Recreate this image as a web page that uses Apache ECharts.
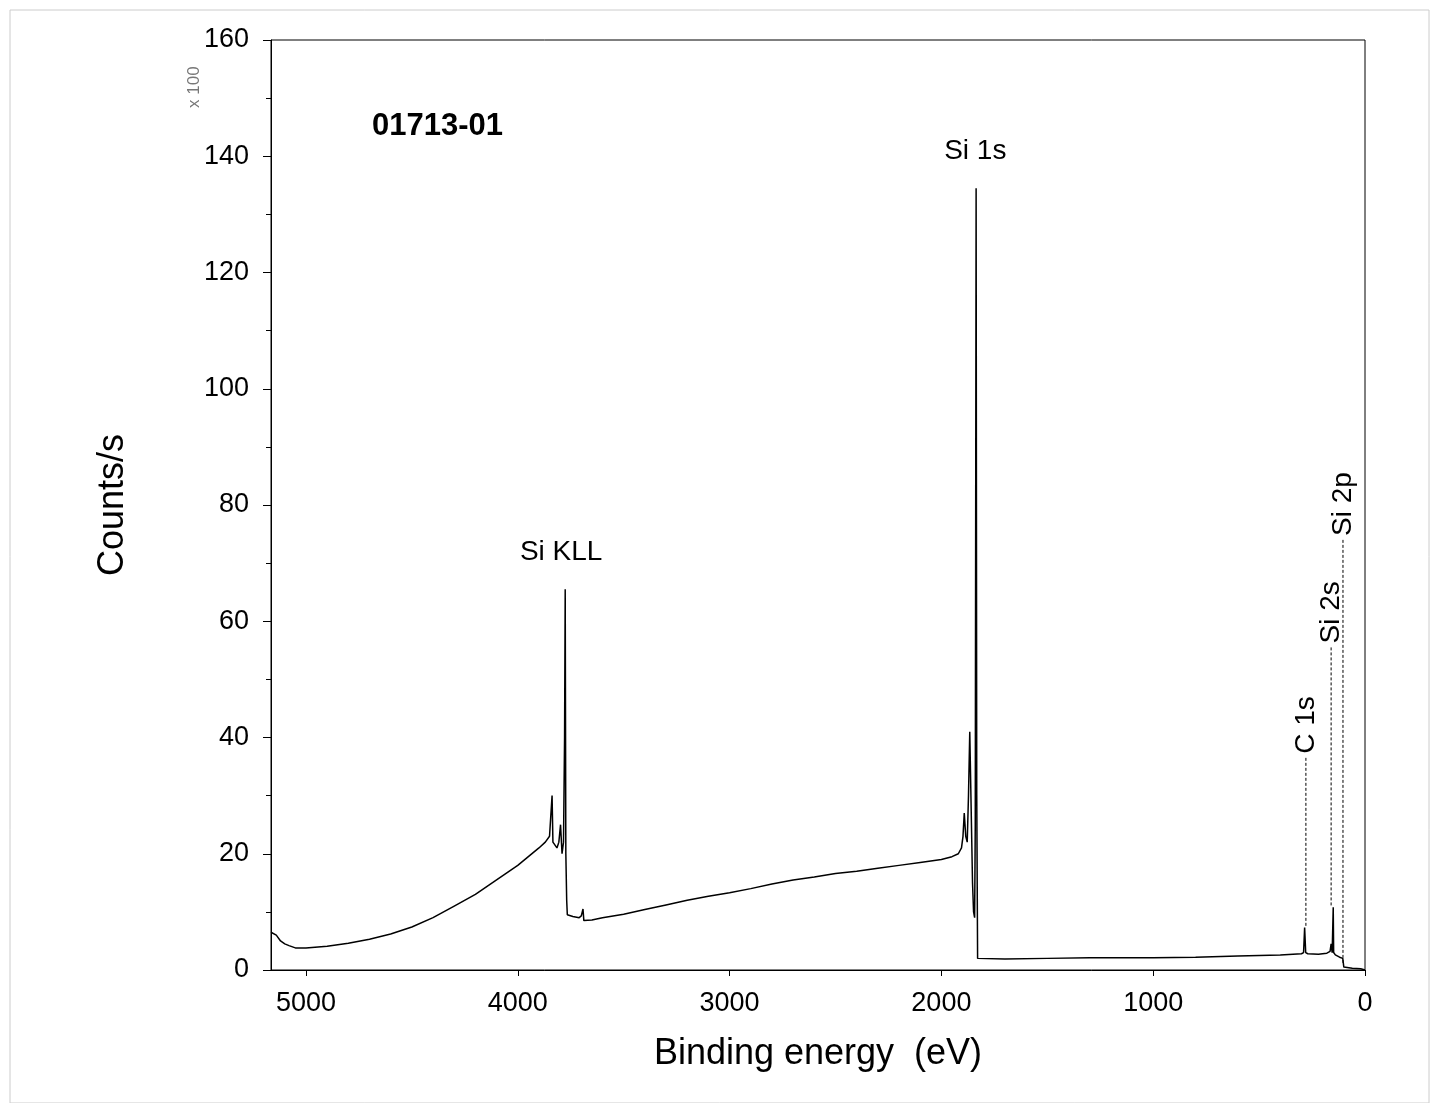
<!DOCTYPE html>
<html>
<head>
<meta charset="utf-8">
<script src="https://cdn.jsdelivr.net/npm/echarts@6/dist/echarts.min.js"></script>
<style>html,body{margin:0;background:#fff}#c{width:1439px;height:1103px}</style>
</head>
<body>
<div id="c"></div>
<script>
// spectrum (binding energy eV, counts/s x100)
const energy = [5165, 5140, 5120, 5100, 5080, 5050, 5000, 4900, 4800, 4700, 4600, 4500, 4400, 4300, 4200, 4100, 4000, 3950, 3900, 3870, 3850, 3838, 3834, 3826, 3815, 3806, 3798, 3791, 3784, 3779, 3776, 3773, 3769, 3766, 3740, 3710, 3700, 3692, 3688, 3680, 3650, 3600, 3500, 3400, 3300, 3200, 3100, 3000, 2900, 2800, 2700, 2600, 2500, 2400, 2300, 2200, 2100, 2000, 1950, 1920, 1905, 1898, 1892, 1885, 1878, 1872, 1866, 1862, 1858, 1853, 1848, 1843, 1840, 1836, 1833, 1829, 1820, 1700, 1500, 1300, 1000, 800, 600, 400, 300, 290, 285, 280, 270, 220, 180, 165, 160, 155, 152, 150, 148, 140, 120, 105, 100, 60, 20, 0]
const counts = [6.5, 6, 5, 4.5, 4.2, 3.8, 3.8, 4.1, 4.6, 5.3, 6.2, 7.4, 9, 11, 13, 15.5, 18, 19.5, 21, 22, 23, 30, 22, 22, 21, 22, 25, 20, 22, 40, 65.5, 20, 12, 9.5, 9.2, 9, 9.3, 10.5, 8.5, 8.3, 8.6, 9, 9.6, 10.4, 11.2, 12, 12.7, 13.3, 14, 14.8, 15.5, 16, 16.6, 17, 17.5, 18, 18.5, 19, 19.5, 20, 21, 23, 27, 23, 22, 30, 41, 33, 25, 15, 10, 9, 25, 134.5, 30, 2, 1.8, 1.9, 2, 2.1, 2.1, 2.2, 2.4, 2.6, 2.8, 3, 7.3, 3, 2.8, 2.7, 2.9, 3.2, 4.5, 3, 3.2, 10.8, 3, 2.6, 2.2, 2, 0.5, 0.3, 0.2, 0]

const peakNames = ['C 1s', 'Si 2s', 'Si 2p']
const peakEnergy = [279, 160, 104]
const peakTop = [36.5, 55.5, 74]
const peakBottom = [7.3, 10.8, 1]
const textNames = ['Si KLL', 'Si 1s']
const textEnergy = [3795, 1840]
const textValue = [69.5, 138.5]

const chart = echarts.init(document.getElementById('c'))
const font = 'Arial, "Liberation Sans", sans-serif'
const lbl = { show: true, formatter: '{b}', fontSize: 28, color: '#000', fontFamily: font, opacity: 1 }

chart.setOption({
  animation: false,
  grid: { left: 271, right: 74, top: 40, bottom: 133, show: true, borderColor: '#000', borderWidth: 1 },
  xAxis: {
    type: 'value', inverse: true, min: 0, max: 5165, interval: 1000,
    name: 'Binding energy  (eV)', nameLocation: 'middle', nameGap: 66,
    nameTextStyle: { fontSize: 36, color: '#000', fontFamily: font },
    axisLine: { onZero: false, lineStyle: { color: '#000' } },
    axisTick: { length: 6, lineStyle: { color: '#000' } },
    axisLabel: { fontSize: 27, color: '#000', fontFamily: font, margin: 20, showMaxLabel: false, formatter: v => String(v) },
    splitLine: { show: false }
  },
  yAxis: {
    type: 'value', min: 0, max: 160, interval: 20,
    name: 'Counts/s', nameLocation: 'middle', nameGap: 140,
    nameTextStyle: { fontSize: 36, color: '#000', fontFamily: font },
    axisLine: { onZero: false, lineStyle: { color: '#000' } },
    axisTick: { length: 8, lineStyle: { color: '#000' } },
    minorTick: { show: true, splitNumber: 2, length: 5, lineStyle: { color: '#000' } },
    axisLabel: { fontSize: 27, color: '#000', fontFamily: font, margin: 22 },
    splitLine: { show: false }
  },
  graphic: [
    { type: 'rect', shape: { x: 10, y: 10, width: 1419, height: 1093 }, style: { fill: 'none', stroke: '#ccc', lineWidth: 1 } },
    { type: 'text', left: 372, top: 111, style: { text: '01713-01', fontSize: 31, fontWeight: 'bold', fill: '#000', fontFamily: font } },
    { type: 'text', x: 186, y: 108, rotation: Math.PI / 2, style: { text: 'x 100', fontSize: 17, fill: '#777', fontFamily: font } }
  ],
  series: [
    {
      type: 'line', data: energy.map((e, i) => [e, counts[i]]),
      showSymbol: false, lineStyle: { color: '#000', width: 1.5 }
    },
    {
      type: 'custom',
      data: peakEnergy.map((e, i) => [e, peakTop[i], peakBottom[i]]),
      renderItem: function (params, api) {
        const p1 = api.coord([api.value(0), api.value(1)])
        const p2 = api.coord([api.value(0), api.value(2)])
        return { type: 'line', shape: { x1: p1[0], y1: p1[1], x2: p2[0], y2: p2[1] },
          style: { stroke: '#000', lineWidth: 1, lineDash: [3, 2] } }
      }
    },
    {
      type: 'scatter', symbolSize: 0, itemStyle: { opacity: 1 },
      data: peakEnergy.map((e, i) => ({ value: [e, peakTop[i]], name: peakNames[i] })),
      label: Object.assign({}, lbl, { rotate: 90, position: 'top', align: 'left', verticalAlign: 'middle', distance: 4 })
    },
    {
      type: 'scatter', symbolSize: 0, itemStyle: { opacity: 1 },
      data: textEnergy.map((e, i) => ({ value: [e, textValue[i]], name: textNames[i] })),
      label: Object.assign({}, lbl, { position: 'top', distance: 0 })
    }
  ]
})
</script>
</body>
</html>
